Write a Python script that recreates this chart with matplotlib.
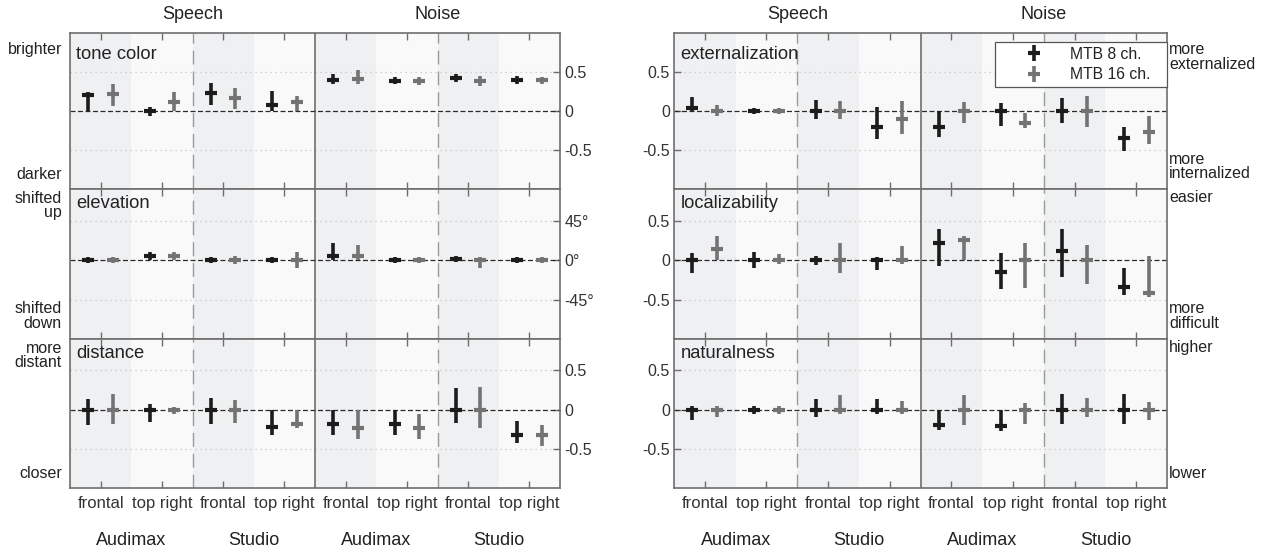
import numpy as np
import matplotlib
matplotlib.use("Agg")
import matplotlib.pyplot as plt
from matplotlib.transforms import blended_transform_factory

plt.rcParams['font.family'] = ['Liberation Sans', 'DejaVu Sans']

# ---------------- data ----------------
positions = ["frontal", "top right", "frontal", "top right",
             "frontal", "top right", "frontal", "top right"]
rooms = ["Audimax", "Studio", "Audimax", "Studio"]
signals = ["Speech", "Noise"]
series_names = ["MTB 8 ch.", "MTB 16 ch."]

# tone color
tone_med8 = [0.20, 0.00, 0.23, 0.08, 0.40, 0.39, 0.42, 0.40]
tone_hi8 = [0.25, 0.05, 0.36, 0.26, 0.47, 0.43, 0.47, 0.45]
tone_lo8 = [0.00, -0.06, 0.08, 0.00, 0.35, 0.35, 0.37, 0.35]
tone_med16 = [0.22, 0.12, 0.17, 0.12, 0.41, 0.38, 0.38, 0.40]
tone_hi16 = [0.34, 0.25, 0.29, 0.19, 0.52, 0.43, 0.45, 0.44]
tone_lo16 = [0.06, 0.00, 0.03, 0.00, 0.35, 0.33, 0.32, 0.35]

# elevation (degrees)
elev_med8 = [0, 5, 0, 0, 5, 0, 1.5, 0]
elev_hi8 = [3, 9.5, 3, 3, 19, 3, 5, 3]
elev_lo8 = [-3, 0, -3, -3, 0, -3, -2, -3]
elev_med16 = [0, 4.5, 0, 0, 5, 0, 0, 0]
elev_hi16 = [3, 9, 5, 9.5, 17, 3, 3, 3]
elev_lo16 = [-3, 0, -5, -9.5, 0, -3, -9.5, -3]

# distance
dist_med8 = [0, 0, 0, -0.22, -0.19, -0.18, 0, -0.33]
dist_hi8 = [0.14, 0.07, 0.15, 0, 0, 0, 0.27, -0.15]
dist_lo8 = [-0.20, -0.16, -0.18, -0.32, -0.32, -0.32, -0.17, -0.42]
dist_med16 = [0, 0, 0, -0.19, -0.23, -0.24, 0, -0.33]
dist_hi16 = [0.20, 0.03, 0.12, 0, 0, -0.06, 0.29, -0.20]
dist_lo16 = [-0.18, -0.05, -0.17, -0.24, -0.38, -0.37, -0.24, -0.46]

# externalization
ext_med8 = [0.04, 0, 0, -0.20, -0.20, 0, 0, -0.35]
ext_hi8 = [0.18, 0.04, 0.14, 0.05, 0, 0.10, 0.17, -0.21]
ext_lo8 = [0, -0.04, -0.10, -0.36, -0.33, -0.19, -0.15, -0.51]
ext_med16 = [0, 0, 0, -0.10, 0, -0.15, 0, -0.27]
ext_hi16 = [0.08, 0.04, 0.13, 0.13, 0.11, -0.02, 0.19, -0.06]
ext_lo16 = [-0.06, -0.04, -0.10, -0.30, -0.16, -0.22, -0.20, -0.42]

# localizability
loc_med8 = [0, 0, 0, 0, 0.21, -0.15, 0.11, -0.34]
loc_hi8 = [0.09, 0.10, 0.05, 0.04, 0.39, 0.09, 0.39, -0.10]
loc_lo8 = [-0.17, -0.10, -0.06, -0.13, -0.08, -0.37, -0.21, -0.44]
loc_med16 = [0.14, 0, 0, 0, 0.25, 0, 0, -0.42]
loc_hi16 = [0.30, 0.08, 0.22, 0.18, 0.30, 0.22, 0.19, 0.05]
loc_lo16 = [0, -0.05, -0.17, -0.05, 0, -0.35, -0.30, -0.47]

# naturalness
nat_med8 = [0, 0, 0, 0, -0.20, -0.21, 0, 0]
nat_hi8 = [0.05, 0.04, 0.13, 0.14, 0, 0, 0.20, 0.20]
nat_lo8 = [-0.13, -0.05, -0.10, -0.05, -0.26, -0.27, -0.19, -0.19]
nat_med16 = [0, 0, 0, 0, 0, 0, 0, 0]
nat_hi16 = [0.04, 0.04, 0.18, 0.11, 0.19, 0.08, 0.15, 0.10]
nat_lo16 = [-0.10, -0.06, -0.05, -0.05, -0.20, -0.19, -0.10, -0.13]

# ---------------- styling ----------------
W, H = 1267, 550
fig = plt.figure(figsize=(W / 100, H / 100), dpi=100)

C8 = "#1c1c1c"
C16 = "#737373"
SHADE_DARK = "#eff0f2"
SHADE_LIGHT = "#f9f9f9"
SPINE = "#6e6e6e"
TXT = "#222222"
FS = 11.5


def add_ax(x0, x1, y0, y1):
    return fig.add_axes([x0 / W, 1 - y1 / H, (x1 - x0) / W, (y1 - y0) / H])


def draw_panel(ax, data, unit, ylim, side, ticklabels, bottom):
    med8, hi8, lo8, med16, hi16, lo16 = [np.asarray(d, float) for d in data]
    n = len(positions)
    x = np.arange(n)
    for i in range(n):
        ax.axvspan(i - 0.5, i + 0.5, color=SHADE_DARK if i % 2 == 0 else SHADE_LIGHT,
                   lw=0, zorder=0)
    ax.set_xlim(-0.5, n - 0.5)
    ax.set_ylim(*ylim)
    for g in (-0.5 * unit, 0.5 * unit):
        ax.axhline(g, color="#c4c4c4", lw=0.9, ls=(0, (1, 3)), zorder=1)
    ax.axvline(1.5, color="#9a9a9a", lw=1.0, ls=(0, (10, 5)), zorder=1)
    ax.axvline(5.5, color="#9a9a9a", lw=1.0, ls=(0, (10, 5)), zorder=1)
    ax.axvline(3.5, color=SPINE, lw=1.2, zorder=1)
    ax.axhline(0, color="#2a2a2a", lw=0.9, ls=(0, (4, 2)), zorder=2)

    h8 = ax.errorbar(x - 0.2, med8, yerr=[med8 - lo8, hi8 - med8], fmt="_",
                     color=C8, ms=9, mew=3, elinewidth=2.6, capsize=0, zorder=4)
    h16 = ax.errorbar(x + 0.2, med16, yerr=[med16 - lo16, hi16 - med16], fmt="_",
                      color=C16, ms=9, mew=3, elinewidth=2.6, capsize=0, zorder=4)

    ax.set_xticks(x)
    ax.set_xticklabels(positions if bottom else [])
    ax.tick_params(axis="x", which="both", direction="in", length=5, width=1,
                   color=SPINE, top=True, bottom=True, labelbottom=bottom,
                   labelsize=12, labelcolor="#333333", pad=6)
    ticks = [-0.5 * unit, 0, 0.5 * unit]
    ax.set_yticks(ticks)
    ax.set_yticklabels(ticklabels)
    if side == "right":
        ax.yaxis.tick_right()
        ax.tick_params(axis="y", direction="in", length=5, width=1, color=SPINE,
                       left=False, right=True, labelright=True, labelleft=False,
                       labelsize=FS, labelcolor="#333333", pad=3)
    else:
        ax.tick_params(axis="y", direction="in", length=5, width=1, color=SPINE,
                       left=True, right=False, labelleft=True, labelright=False,
                       labelsize=FS, labelcolor="#333333", pad=3)
    for s in ax.spines.values():
        s.set_color(SPINE)
        s.set_linewidth(1.2)
    return h8, h16


left_x = (70, 560)
right_x = (674, 1167)
row_y = [(33, 189), (189, 339), (339, 488)]
ylims = [(-1.0, 1.0), (-1.0, 0.9), (-1.0, 0.9)]

num_labels = ["-0.5", "0", "0.5"]
deg_labels = ["-45°", "0°", "45°"]

left_panels = [
    ("tone color", (tone_med8, tone_hi8, tone_lo8, tone_med16, tone_hi16, tone_lo16), 1.0, num_labels,
     "brighter", "darker"),
    ("elevation", (elev_med8, elev_hi8, elev_lo8, elev_med16, elev_hi16, elev_lo16), 90.0, deg_labels,
     "shifted\nup", "shifted\ndown"),
    ("distance", (dist_med8, dist_hi8, dist_lo8, dist_med16, dist_hi16, dist_lo16), 1.0, num_labels,
     "more\ndistant", "closer"),
]
right_panels = [
    ("externalization", (ext_med8, ext_hi8, ext_lo8, ext_med16, ext_hi16, ext_lo16), 1.0, num_labels,
     "more\nexternalized", "more\ninternalized"),
    ("localizability", (loc_med8, loc_hi8, loc_lo8, loc_med16, loc_hi16, loc_lo16), 1.0, num_labels,
     "easier", "more\ndifficult"),
    ("naturalness", (nat_med8, nat_hi8, nat_lo8, nat_med16, nat_hi16, nat_lo16), 1.0, num_labels,
     "higher", "lower"),
]

for grp, (xr, panels, side) in enumerate([(left_x, left_panels, "right"),
                                          (right_x, right_panels, "left")]):
    for r, (name, data, unit, tl, up_lbl, down_lbl) in enumerate(panels):
        ax = add_ax(xr[0], xr[1], row_y[r][0], row_y[r][1])
        ylim = (ylims[r][0] * unit, ylims[r][1] * unit)
        hs = draw_panel(ax, data, unit, ylim, side, tl, bottom=(r == 2))
        if grp == 1 and r == 0:
            axw = xr[1] - xr[0]
            axh = row_y[r][1] - row_y[r][0]
            bx0 = (995 - xr[0]) / axw
            by1 = 1 - (42 - row_y[r][0]) / axh
            by0 = 1 - (88 - row_y[r][0]) / axh
            leg = ax.legend(hs, series_names, loc="upper left", mode="expand",
                            bbox_to_anchor=(bx0, by0, 1.0 - bx0, by1 - by0),
                            borderaxespad=0,
                            fontsize=11.3, frameon=True, fancybox=False,
                            edgecolor="#555555", facecolor="white", framealpha=1,
                            handlelength=4.4, handletextpad=0.1, borderpad=0.3,
                            labelspacing=0.35)
            leg.get_frame().set_linewidth(0.9)
            for t in leg.get_texts():
                t.set_color(TXT)
        btr = blended_transform_factory(ax.transAxes, ax.transData)
        ax.text(0.013, 0.72 * unit, name, transform=btr, fontsize=13.2,
                color=TXT, ha="left", va="center", zorder=6)
        # side descriptive labels
        up_y = (0.69 if "\n" in up_lbl else 0.79) * unit
        dn_y = (-0.71 if "\n" in down_lbl else -0.81) * unit
        if side == "right":
            for lbl, yy in ((up_lbl, up_y), (down_lbl, dn_y)):
                ax.annotate(lbl, xy=(0, yy), xycoords=btr, xytext=(-5.8, 0),
                            textcoords="offset points", ha="right", va="center",
                            fontsize=FS, color=TXT, linespacing=0.95,
                            multialignment="right", annotation_clip=False)
        else:
            for lbl, yy in ((up_lbl, up_y), (down_lbl, dn_y)):
                ax.annotate(lbl, xy=(1, yy), xycoords=btr, xytext=(1.5, 0),
                            textcoords="offset points", ha="left", va="center",
                            fontsize=FS, color=TXT, linespacing=0.95,
                            multialignment="left", annotation_clip=False)
        if r == 0:
            for k, sig in enumerate(signals):
                ax.annotate(sig, xy=(1.5 + 4 * k, 1), xycoords=("data", "axes fraction"),
                            xytext=(0, 13.5), textcoords="offset points",
                            ha="center", va="center", fontsize=13, color=TXT,
                            annotation_clip=False)
        if r == 2:
            for k, room in enumerate(rooms):
                ax.annotate(room, xy=(0.5 + 2 * k, 0), xycoords=("data", "axes fraction"),
                            xytext=(0, -37.5), textcoords="offset points",
                            ha="center", va="center", fontsize=13, color=TXT,
                            annotation_clip=False)

fig.savefig("out.png", dpi=100, facecolor="white")
